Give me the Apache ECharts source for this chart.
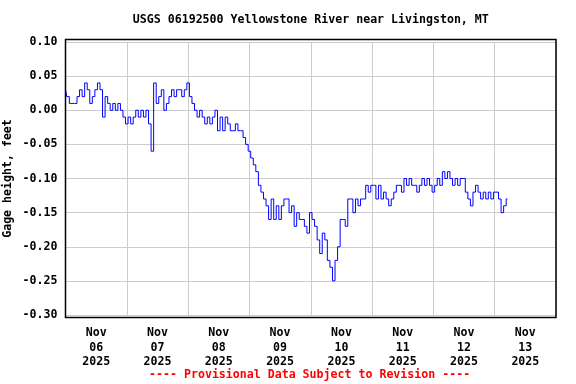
<!DOCTYPE html>
<html><head><meta charset="utf-8">
<script src="https://cdn.jsdelivr.net/npm/echarts@6/dist/echarts.min.js"></script>
<style>html,body{margin:0;padding:0;background:#fff}#c{width:576px;height:384px}</style>
</head><body><div id="c"></div>
<script>
// X axis: day labels (each band = one day, label at noon)
const dayLabels = ['Nov\n06\n2025','Nov\n07\n2025','Nov\n08\n2025','Nov\n09\n2025','Nov\n10\n2025','Nov\n11\n2025','Nov\n12\n2025','Nov\n13\n2025'];
// Gage height readings (feet), hourly starting Nov 06 00:00
const readingStartHour = 0;
const readingStepHours = 1;
const gageHeight = [
  // Nov 06
  0.03, 0.02, 0.01, 0.01, 0.01, 0.02, 0.03, 0.02, 0.04, 0.03, 0.01, 0.02,
  0.03, 0.04, 0.03, -0.01, 0.02, 0.01, 0.00, 0.01, 0.00, 0.01, 0.00, -0.01,
  // Nov 07
  -0.02, -0.01, -0.02, -0.01, 0.00, -0.01, 0.00, -0.01, 0.00, -0.02, -0.06, 0.04,
  0.01, 0.02, 0.03, 0.00, 0.01, 0.02, 0.03, 0.02, 0.03, 0.03, 0.02, 0.03,
  // Nov 08
  0.04, 0.02, 0.01, 0.00, -0.01, 0.00, -0.01, -0.02, -0.01, -0.02, -0.01, 0.00,
  -0.03, -0.01, -0.03, -0.01, -0.02, -0.03, -0.03, -0.02, -0.03, -0.03, -0.04, -0.05,
  // Nov 09
  -0.06, -0.07, -0.08, -0.09, -0.11, -0.12, -0.13, -0.14, -0.16, -0.13, -0.16, -0.14,
  -0.16, -0.14, -0.13, -0.13, -0.15, -0.14, -0.17, -0.15, -0.16, -0.16, -0.17, -0.18,
  // Nov 10
  -0.15, -0.16, -0.17, -0.19, -0.21, -0.18, -0.19, -0.22, -0.23, -0.25, -0.22, -0.20,
  -0.16, -0.16, -0.17, -0.13, -0.13, -0.15, -0.13, -0.14, -0.13, -0.13, -0.11, -0.12,
  // Nov 11
  -0.11, -0.11, -0.13, -0.11, -0.13, -0.12, -0.13, -0.14, -0.13, -0.12, -0.11, -0.11,
  -0.12, -0.10, -0.11, -0.10, -0.11, -0.11, -0.12, -0.11, -0.10, -0.11, -0.10, -0.11,
  // Nov 12
  -0.12, -0.11, -0.10, -0.11, -0.09, -0.10, -0.09, -0.10, -0.11, -0.10, -0.11, -0.10,
  -0.10, -0.12, -0.13, -0.14, -0.12, -0.11, -0.12, -0.13, -0.12, -0.13, -0.12, -0.13,
  // Nov 13
  -0.12, -0.12, -0.13, -0.15, -0.14, -0.13
];
const yMin = -0.30, yMax = 0.10, yStep = 0.05;
const xHoursMax = 192;
const titleText = 'USGS 06192500 Yellowstone River near Livingston, MT';
const yAxisTitle = 'Gage height, feet';
const footnote = '---- Provisional Data Subject to Revision ----';

const FONT = '"DejaVu Sans Mono", "Liberation Mono", monospace';
const FS = 11.6;
const seriesData = gageHeight.map((v, i) => [readingStartHour + i * readingStepHours, v]);

const chart = echarts.init(document.getElementById('c'), null, {renderer: 'canvas'});
chart.setOption({
  animation: false,
  backgroundColor: '#fff',
  grid: {left: 65.5, right: 20, top: 42, bottom: 69, containLabel: false, outerBoundsMode: 'none'},
  xAxis: [{
    type: 'category', data: dayLabels, boundaryGap: true,
    axisLine: {show: false}, axisTick: {show: false},
    splitLine: {show: true, lineStyle: {color: '#cccccc', width: 1}},
    axisLabel: {interval: 0, margin: 11, lineHeight: 14.5, color: '#000', fontFamily: FONT, fontWeight: 'bold', fontSize: FS}
  }, {
    type: 'value', min: 0, max: xHoursMax, show: false
  }],
  yAxis: {
    type: 'value', min: yMin, max: yMax, interval: yStep,
    name: yAxisTitle, nameLocation: 'middle', nameGap: 52, nameMoveOverlap: false,
    nameTextStyle: {color: '#000', fontFamily: FONT, fontWeight: 'bold', fontSize: FS},
    axisLine: {show: false}, axisTick: {show: false},
    splitLine: {show: true, lineStyle: {color: '#cccccc', width: 1}},
    axisLabel: {margin: 8, color: '#000', fontFamily: FONT, fontWeight: 'bold', fontSize: FS,
      formatter: v => (Math.round(v * 100) / 100).toFixed(2)}
  },
  series: [{
    type: 'line', xAxisIndex: 1, data: seriesData, step: 'middle',
    showSymbol: false, symbol: 'none',
    lineStyle: {color: '#0000ff', width: 1}
  }],
  graphic: [
    {type: 'rect', shape: {x: 65.5, y: 39.5, width: 490.5, height: 278}, style: {fill: 'none', stroke: '#000', lineWidth: 1.5}, z: 100},
    {type: 'text', x: 310.8, y: 20, style: {text: titleText, align: 'center', verticalAlign: 'middle', font: 'bold ' + FS + 'px ' + FONT, fill: '#000'}},
    {type: 'text', x: 309.6, y: 375, style: {text: footnote, align: 'center', verticalAlign: 'middle', font: 'bold ' + FS + 'px ' + FONT, fill: '#ff0000'}}
  ]
});
</script></body></html>
